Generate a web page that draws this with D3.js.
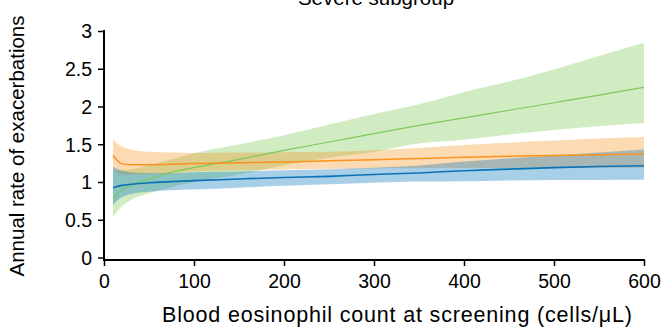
<!DOCTYPE html>
<html>
<head>
<meta charset="utf-8">
<script src="https://cdn.jsdelivr.net/npm/d3@7"></script>
<style>
  body { margin: 0; background: #fff; }
  svg { display: block; font-family: "Liberation Sans", Arial, sans-serif; }
</style>
</head>
<body>
<svg width="666" height="327"></svg>
<script>
// eosinophil counts (cells/uL) at which the curves were read
let eos = [10, 20, 30, 50, 75, 100, 150, 200, 250, 300, 350, 400, 450, 500, 550, 600];

let blueMean  = [0.925, 0.955, 0.97, 0.99, 1.005, 1.018, 1.04, 1.06, 1.075, 1.10, 1.12, 1.15, 1.17, 1.19, 1.205, 1.216];
let blueLow   = [0.70, 0.80, 0.84, 0.87, 0.89, 0.90, 0.925, 0.95, 0.97, 0.99, 1.005, 1.01, 1.02, 1.025, 1.027, 1.03];
let blueHigh  = [1.20, 1.15, 1.13, 1.12, 1.12, 1.13, 1.14, 1.155, 1.17, 1.19, 1.22, 1.27, 1.31, 1.35, 1.39, 1.43];

let orangeMean = [1.35, 1.24, 1.23, 1.23, 1.235, 1.245, 1.255, 1.265, 1.28, 1.295, 1.31, 1.327, 1.34, 1.35, 1.36, 1.371];
let orangeLow  = [1.16, 1.10, 1.10, 1.11, 1.12, 1.14, 1.155, 1.165, 1.175, 1.18, 1.183, 1.185, 1.187, 1.19, 1.19, 1.19];
let orangeHigh = [1.556, 1.47, 1.43, 1.40, 1.39, 1.385, 1.39, 1.395, 1.40, 1.42, 1.45, 1.49, 1.52, 1.55, 1.575, 1.596];

let greenMean = [0.78, 0.90, 0.96, 1.04, 1.13, 1.19, 1.30, 1.42, 1.53, 1.64, 1.75, 1.85, 1.95, 2.05, 2.15, 2.254];
let greenLow  = [0.54, 0.68, 0.76, 0.85, 0.93, 1.0, 1.10, 1.22, 1.32, 1.40, 1.51, 1.56, 1.63, 1.69, 1.74, 1.78];
let greenHigh = [1.15, 1.16, 1.17, 1.22, 1.30, 1.38, 1.50, 1.62, 1.76, 1.90, 2.03, 2.19, 2.33, 2.49, 2.67, 2.845];

let xTicks = [0, 100, 200, 300, 400, 500, 600];
let yTicks = [0, 0.5, 1, 1.5, 2, 2.5, 3];

let series = [
    { name: 'green',  mean: greenMean,  low: greenLow,  high: greenHigh,  line: '#7dc95b', band: '#78c850', width: 1.2 },
    { name: 'orange', mean: orangeMean, low: orangeLow, high: orangeHigh, line: '#f7931e', band: '#f7941d', width: 1.5 },
    { name: 'blue',   mean: blueMean,   low: blueLow,   high: blueHigh,   line: '#0b72b5', band: '#0072bd', width: 1.6 }
];

let svg = d3.select('svg');

let x = d3.scaleLinear().domain([0, 600]).range([104, 644]);
let y = d3.scaleLinear().domain([0, 3]).range([257.5, 31]);

let band = d3.area()
    .x(d => x(d.e))
    .y0(d => y(d.lo))
    .y1(d => y(d.hi))
    .curve(d3.curveMonotoneX);

let line = d3.line()
    .x(d => x(d.e))
    .y(d => y(d.m))
    .curve(d3.curveMonotoneX);

series.forEach(s => {
    s.rows = eos.map((e, i) => ({ e: e, m: s.mean[i], lo: s.low[i], hi: s.high[i] }));
});

svg.append('g')
    .selectAll('path')
    .data(series)
    .enter()
    .append('path')
        .attr('d', d => band(d.rows))
        .attr('fill', d => d.band)
        .attr('fill-opacity', 0.34);

svg.append('g')
    .selectAll('path')
    .data(series)
    .enter()
    .append('path')
        .attr('d', d => line(d.rows))
        .attr('fill', 'none')
        .attr('stroke', d => d.line)
        .attr('stroke-width', d => d.width);

// axes, Prism style: x axis line sits a little below zero
let yAxis = d3.axisLeft(y)
    .tickValues(yTicks)
    .tickFormat(d => d)
    .tickSize(6)
    .tickSizeOuter(0);

let gy = svg.append('g')
    .attr('transform', 'translate(104,0)')
    .call(yAxis);
gy.select('.domain').remove();
gy.append('line')
    .attr('x1', 0).attr('x2', 0)
    .attr('y1', y(3) - 1).attr('y2', 261)
    .attr('stroke', '#000').attr('stroke-width', 2);

let xAxis = d3.axisBottom(x)
    .tickValues(xTicks)
    .tickSize(6)
    .tickSizeOuter(0);

let gx = svg.append('g')
    .attr('transform', 'translate(0,260)')
    .call(xAxis);
gx.select('.domain').remove();
gx.append('line')
    .attr('x1', 103).attr('x2', 645)
    .attr('y1', 0).attr('y2', 0)
    .attr('stroke', '#000').attr('stroke-width', 2);

[gx, gy].forEach(g => {
    g.selectAll('.tick line').attr('stroke', '#000').attr('stroke-width', 1.5);
    g.selectAll('.tick text')
        .attr('fill', '#000')
        .style('font-size', '19.5px')
        .style('font-family', '"Liberation Sans", Arial, sans-serif');
});
gy.selectAll('.tick text').attr('x', -12).attr('dy', '0.35em');
gx.selectAll('.tick text').attr('y', 9).attr('dy', '0.95em');

svg.append('text')
    .attr('x', 162)
    .attr('y', 322)
    .attr('textLength', 470)
    .attr('lengthAdjust', 'spacing')
    .style('font-size', '21.5px')
    .text('Blood eosinophil count at screening (cells/μL)');

svg.append('text')
    .attr('transform', 'translate(24,146) rotate(-90)')
    .attr('text-anchor', 'middle')
    .style('font-size', '20.5px')
    .text('Annual rate of exacerbations');

svg.append('text')
    .attr('x', 376)
    .attr('y', 5)
    .attr('text-anchor', 'middle')
    .style('font-size', '20.5px')
    .text('Severe subgroup');
</script>
</body>
</html>
